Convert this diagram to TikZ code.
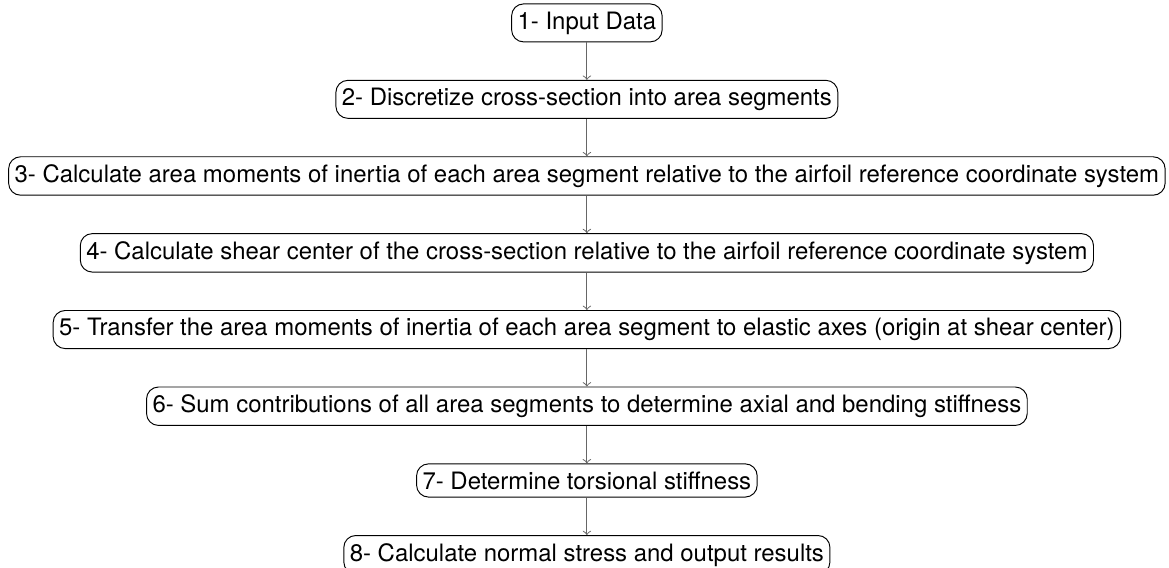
\documentclass[tikz,border=0pt]{standalone}
\usepackage{fontspec}
\setmainfont{TeX Gyre Heros}
\usetikzlibrary{positioning,calc}

\begin{document}
\begin{tikzpicture}[
                stepbox/.style={rectangle,rounded corners=5pt,draw=black,thin,inner xsep=2.5pt,inner ysep=3.2pt,font=\normalsize},
                flow/.style={->,gray!80!black,thin},
                node distance=0.55cm,
            ]

                % Steps of the cross-section analysis
                \node[stepbox] (s1) {1- Input Data};
                \node[stepbox,below=of s1] (s2) {2- Discretize cross-section into area segments};
                \node[stepbox,below=of s2] (s3) {3- Calculate area moments of inertia of each area segment relative to the airfoil reference coordinate system};
                \node[stepbox,below=of s3] (s4) {4- Calculate shear center of the cross-section relative to the airfoil reference coordinate system};
                \node[stepbox,below=of s4] (s5) {5- Transfer the area moments of inertia of each area segment to elastic axes (origin at shear center)};
                \node[stepbox,below=of s5] (s6) {6- Sum contributions of all area segments to determine axial and bending stiffness};
                \node[stepbox,below=of s6] (s7) {7- Determine torsional stiffness};
                \node[stepbox,below=of s7] (s8) {8- Calculate normal stress and output results};

                % Arrows between steps
                \foreach \a/\b in {s1/s2,s2/s3,s3/s4,s4/s5,s5/s6,s6/s7,s7/s8}
                    \draw[flow] (\a) -- (\b);

                % Crop: the last box is cut at the bottom
                \pgfresetboundingbox
                \path[use as bounding box] ($(s3.west |- s1.north)+(-0.12,0.05)$) rectangle ($(s3.east |- s8.south)+(0.05,0.1)$);

            \end{tikzpicture}
\end{document}
